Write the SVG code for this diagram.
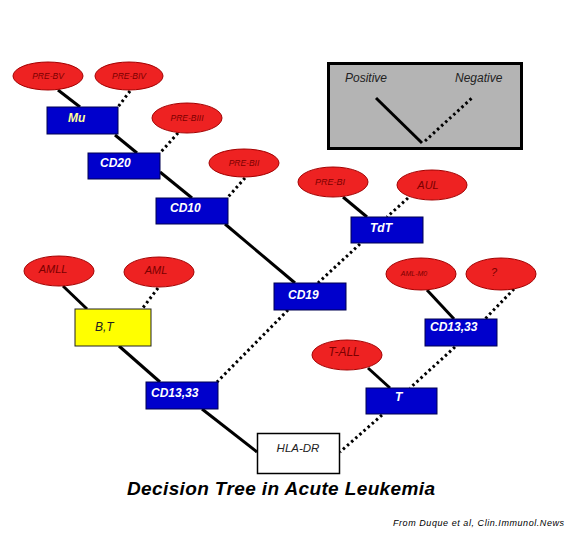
<svg xmlns="http://www.w3.org/2000/svg" width="565" height="539" viewBox="0 0 565 539">
<style>
.ell{fill:#ee2222;stroke:#a30000;stroke-width:1}
.et{font-family:"Liberation Sans",Arial,sans-serif;font-style:italic;fill:#7a0000;text-anchor:middle}
.box{fill:#0000cc;stroke:#000050;stroke-width:1}
.bt{font-family:"Liberation Sans",Arial,sans-serif;font-style:italic;font-weight:bold;font-size:12px;fill:#ffffff}
.sol{stroke:#000;stroke-width:3;fill:none}
.dot{stroke:#000;stroke-width:3;fill:none;stroke-dasharray:2.5 3}
</style>
<rect width="565" height="539" fill="#ffffff"/>
<g id="connectors">
<line class="sol" x1="58" y1="90" x2="80" y2="107"/>
<line class="sol" x1="115" y1="135" x2="137" y2="153"/>
<line class="sol" x1="160" y1="172" x2="192" y2="198"/>
<line class="sol" x1="225" y1="224" x2="295" y2="283"/>
<line class="sol" x1="343" y1="197" x2="367" y2="217"/>
<line class="sol" x1="63" y1="286" x2="87" y2="309"/>
<line class="sol" x1="119" y1="346" x2="160" y2="382"/>
<line class="sol" x1="202" y1="409" x2="257" y2="452"/>
<line class="sol" x1="427" y1="290" x2="454" y2="319"/>
<line class="sol" x1="368" y1="368" x2="390" y2="388"/>
<line class="dot" x1="130" y1="91" x2="118" y2="107"/>
<line class="dot" x1="178" y1="133" x2="160" y2="153"/>
<line class="dot" x1="245" y1="178" x2="228" y2="197"/>
<line class="dot" x1="408" y1="198" x2="387" y2="217"/>
<line class="dot" x1="360" y1="244" x2="318" y2="283"/>
<line class="dot" x1="158" y1="288" x2="142" y2="309"/>
<line class="dot" x1="288" y1="310" x2="217" y2="382"/>
<line class="dot" x1="514" y1="289" x2="485" y2="319"/>
<line class="dot" x1="455" y1="347" x2="410" y2="388"/>
<line class="dot" x1="382" y1="415" x2="340" y2="452"/>
</g>
<g id="n-prebv"><ellipse class="ell" cx="48" cy="76" rx="35" ry="14"/><text class="et" x="48" y="79" font-size="8.5">PRE-BV</text></g>
<g id="n-prebiv"><ellipse class="ell" cx="129" cy="76" rx="34" ry="14"/><text class="et" x="129" y="79" font-size="8.5">PRE-BIV</text></g>
<g id="n-prebiii"><ellipse class="ell" cx="187" cy="118" rx="35" ry="15"/><text class="et" x="187" y="121" font-size="8.5">PRE-BIII</text></g>
<g id="n-prebii"><ellipse class="ell" cx="244" cy="163" rx="35" ry="14"/><text class="et" x="244" y="166" font-size="8.5">PRE-BII</text></g>
<g id="n-prebi"><ellipse class="ell" cx="333" cy="182" rx="35" ry="15"/><text class="et" x="330" y="185" font-size="9">PRE-BI</text></g>
<g id="n-aul"><ellipse class="ell" cx="432" cy="185" rx="35" ry="15"/><text class="et" x="428" y="189" font-size="11">AUL</text></g>
<g id="n-amll"><ellipse class="ell" cx="59" cy="271" rx="35" ry="15"/><text class="et" x="53" y="273" font-size="11">AMLL</text></g>
<g id="n-aml"><ellipse class="ell" cx="159" cy="272" rx="35" ry="15"/><text class="et" x="156" y="274" font-size="11">AML</text></g>
<g id="n-amlm0"><ellipse class="ell" cx="421" cy="274" rx="35" ry="16"/><text class="et" x="414" y="276" font-size="7">AML-M0</text></g>
<g id="n-q"><ellipse class="ell" cx="501" cy="274" rx="35" ry="16"/><text class="et" x="494" y="276" font-size="11">?</text></g>
<g id="n-tall"><ellipse class="ell" cx="347" cy="355" rx="35" ry="15"/><text class="et" x="344" y="356" font-size="12">T-ALL</text></g>
<g id="n-mu"><rect class="box" x="47" y="107" width="71" height="27"/><text class="bt" x="68" y="122" style="fill:#ffff99">Mu</text></g>
<g id="n-cd20"><rect class="box" x="88" y="153" width="72" height="26"/><text class="bt" x="100" y="167">CD20</text></g>
<g id="n-cd10"><rect class="box" x="156" y="198" width="72" height="26"/><text class="bt" x="170" y="212">CD10</text></g>
<g id="n-tdt"><rect class="box" x="351" y="217" width="72" height="26"/><text class="bt" x="370" y="232">TdT</text></g>
<g id="n-cd19"><rect class="box" x="274" y="283" width="72" height="27"/><text class="bt" x="288" y="299">CD19</text></g>
<g id="n-bt"><rect x="75" y="309" width="76" height="37" fill="#ffff00" stroke="#222" stroke-width="1"/><text x="95" y="331" font-family="Liberation Sans, Arial, sans-serif" font-style="italic" font-size="12" fill="#222">B,T</text></g>
<g id="n-cd1333l"><rect class="box" x="146" y="382" width="72" height="27"/><text class="bt" x="151" y="397">CD13,33</text></g>
<g id="n-cd1333r"><rect class="box" x="425" y="319" width="72" height="27"/><text class="bt" x="430" y="331">CD13,33</text></g>
<g id="n-t"><rect class="box" x="366" y="388" width="71" height="26"/><text class="bt" x="395" y="401">T</text></g>
<g id="n-hladr"><rect x="257.5" y="433.5" width="82" height="40" fill="#ffffff" stroke="#000" stroke-width="1.5"/><text x="298" y="452" text-anchor="middle" font-family="Liberation Sans, Arial, sans-serif" font-style="italic" font-size="11.5" fill="#222">HLA-DR</text></g>
<g id="legend">
<rect x="328.5" y="63.5" width="193" height="85" fill="#b4b4b4" stroke="#000" stroke-width="3"/>
<text x="345" y="82" font-family="Liberation Sans, Arial, sans-serif" font-style="italic" font-size="12" fill="#222">Positive</text>
<text x="455" y="82" font-family="Liberation Sans, Arial, sans-serif" font-style="italic" font-size="12" fill="#222">Negative</text>
<line class="sol" x1="376" y1="98" x2="422" y2="143"/>
<line class="dot" x1="425" y1="141" x2="472" y2="98"/>
</g>
<text x="127" y="495" font-family="Liberation Sans, Arial, sans-serif" font-style="italic" font-weight="bold" font-size="19" textLength="308" fill="#000">Decision Tree in Acute Leukemia</text>
<text x="393" y="526" font-family="Liberation Sans, Arial, sans-serif" font-style="italic" font-size="9" textLength="171" fill="#000">From Duque et al, Clin.Immunol.News</text>
</svg>
